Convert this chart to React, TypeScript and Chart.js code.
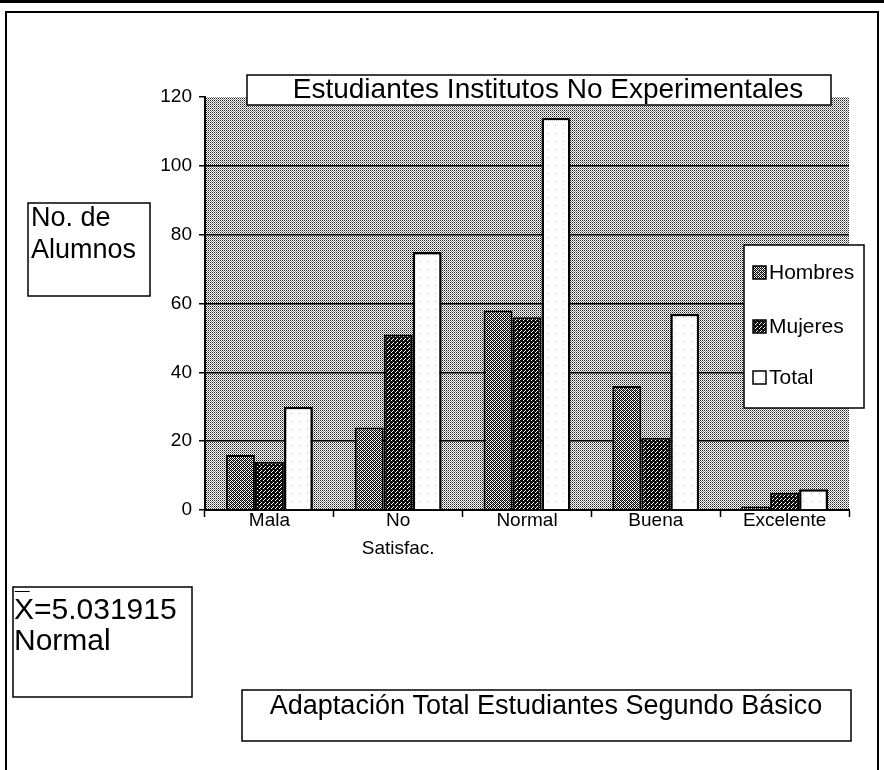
import React, { useEffect, useRef } from 'react';
import { Chart, registerables } from 'chart.js';

Chart.register(...registerables);

const categories: (string | string[])[] = ['Mala', ['No', 'Satisfac.'], 'Normal', 'Buena', 'Excelente'];
const hombres = [16, 24, 58, 36, 1];
const mujeres = [14, 51, 56, 21, 5];
const total = [30, 75, 114, 57, 6];
const seriesNames = ['Hombres', 'Mujeres', 'Total'];
const yMax = 120;
const yStep = 20;
const chartTitle = 'Estudiantes Institutos No Experimentales';
const axisTitle = ['No. de', 'Alumnos'];
const meanBar = '_';
const meanLines = ['X=5.031915', 'Normal'];
const bottomTitle = 'Adaptación Total Estudiantes Segundo Básico';

const FONT = '"Liberation Sans", Arial, sans-serif';

type Cell = [number, number, string];

function makePattern(size: number, bg: string, cells: Cell[]): CanvasPattern | string {
  const c = document.createElement('canvas');
  c.width = size;
  c.height = size;
  const g = c.getContext('2d');
  if (!g) return bg;
  g.fillStyle = bg;
  g.fillRect(0, 0, size, size);
  cells.forEach(([x, y, col]) => {
    g.fillStyle = col;
    g.fillRect(x, y, 1, 1);
  });
  return g.createPattern(c, 'repeat') || bg;
}

export default function App() {
  const ref = useRef<HTMLCanvasElement | null>(null);

  useEffect(() => {
    const canvas = ref.current;
    if (!canvas) return;

    const bgPat = makePattern(2, '#ffffff', [
      [0, 0, '#222'], [1, 1, '#888'],
    ]);
    const hPat = makePattern(4, '#ffffff', [
      [0, 0, '#000'], [1, 0, '#777'], [2, 0, '#000'], [1, 1, '#000'], [3, 1, '#000'],
      [0, 2, '#000'], [2, 2, '#000'], [3, 2, '#777'], [1, 3, '#000'], [3, 3, '#000'],
    ]);
    const mPat = makePattern(4, '#ffffff', [
      [0, 0, '#000'], [1, 0, '#000'], [2, 0, '#000'], [1, 1, '#000'], [3, 1, '#000'], [0, 1, '#333'],
      [0, 2, '#000'], [2, 2, '#000'], [3, 2, '#000'], [1, 3, '#000'], [3, 3, '#000'], [2, 1, '#222'],
      [2, 3, '#333'],
    ]);
    const tPat = makePattern(8, '#ffffff', [[3, 5, '#bbb']]);
    const fills = [hPat, mPat, tPat];

    const boxText = (
      ctx: CanvasRenderingContext2D,
      x1: number, y1: number, x2: number, y2: number
    ) => {
      ctx.save();
      ctx.fillStyle = '#fff';
      ctx.fillRect(x1, y1, x2 - x1, y2 - y1);
      ctx.strokeStyle = '#000';
      ctx.lineWidth = 1.5;
      ctx.strokeRect(x1, y1, x2 - x1, y2 - y1);
      ctx.restore();
    };

    const decor = {
      id: 'decor',
      beforeDraw(chart: Chart) {
        const ctx = chart.ctx;
        const a = chart.chartArea;
        ctx.save();
        ctx.fillStyle = '#fff';
        ctx.fillRect(0, 0, chart.width, chart.height);
        ctx.fillStyle = bgPat as any;
        ctx.fillRect(a.left, a.top, a.right - a.left, a.bottom - a.top);
        ctx.restore();
      },
      afterDraw(chart: Chart) {
        const ctx = chart.ctx;
        ctx.save();
        // outer frame
        ctx.fillStyle = '#000';
        ctx.fillRect(0, 0, chart.width, 3);
        ctx.strokeStyle = '#000';
        ctx.lineWidth = 2;
        ctx.strokeRect(6, 12, 872, 770);

        // title
        boxText(ctx, 247, 75, 831, 105);
        ctx.fillStyle = '#000';
        ctx.textAlign = 'center';
        ctx.textBaseline = 'middle';
        ctx.font = `28px ${FONT}`;
        ctx.fillText(chartTitle, 548, 90);

        // axis title
        boxText(ctx, 28, 203, 150, 296);
        ctx.fillStyle = '#000';
        ctx.textAlign = 'left';
        ctx.font = `27px ${FONT}`;
        ctx.fillText(axisTitle[0], 31, 219);
        ctx.fillText(axisTitle[1], 31, 251);

        // legend
        boxText(ctx, 744, 245, 864, 408);
        const ys = [273, 327, 378];
        chart.data.datasets.forEach((ds: any, i: number) => {
          const y = ys[i];
          ctx.fillStyle = fills[i] as any;
          ctx.fillRect(753, y - 7, 13, 13);
          ctx.strokeStyle = '#000';
          ctx.lineWidth = 1.5;
          ctx.strokeRect(753, y - 7, 13, 13);
          ctx.fillStyle = '#000';
          ctx.font = `21px ${FONT}`;
          ctx.textAlign = 'left';
          ctx.textBaseline = 'middle';
          ctx.fillText(ds.label, 769, y);
        });

        // mean box
        boxText(ctx, 13, 587, 192, 697);
        ctx.fillStyle = '#000';
        ctx.font = `bold 26px ${FONT}`;
        ctx.textAlign = 'left';
        ctx.textBaseline = 'alphabetic';
        ctx.fillText(meanBar, 15, 589);
        ctx.font = `30px ${FONT}`;
        ctx.textBaseline = 'middle';
        ctx.fillText(meanLines[0], 14, 611);
        ctx.fillText(meanLines[1], 14, 642);

        // bottom title
        boxText(ctx, 242, 690, 851, 741);
        ctx.fillStyle = '#000';
        ctx.textAlign = 'center';
        ctx.font = `27px ${FONT}`;
        ctx.fillText(bottomTitle, 546, 707);
        ctx.restore();
      },
    };

    const YW = 45;
    const XH = 70;
    const chart = new Chart(canvas, {
      type: 'bar',
      data: {
        labels: categories as any,
        datasets: [hombres, mujeres, total].map((d, i) => ({
          label: seriesNames[i],
          data: d,
          backgroundColor: fills[i] as any,
          borderColor: '#000',
          borderWidth: i === 2 ? 2.5 : 2,
          categoryPercentage: 0.675,
          barPercentage: 1,
        })),
      },
      options: {
        responsive: false,
        animation: false,
        layout: { padding: { left: 205 - YW, right: 884 - 849, top: 97, bottom: 770 - 510 - XH } },
        plugins: { legend: { display: false }, title: { display: false }, tooltip: { enabled: false } },
        scales: {
          x: {
            afterFit: (s: any) => { s.height = XH; },
            grid: { drawOnChartArea: false, offset: true, tickLength: 7, tickColor: '#000', tickWidth: 1.5 },
            border: { color: '#000', width: 2 },
            ticks: { color: '#000', font: { family: FONT, size: 19, lineHeight: 1.45 }, padding: -10, maxRotation: 0, autoSkip: false },
          },
          y: {
            min: 0,
            max: yMax,
            afterFit: (s: any) => { s.width = YW; },
            grid: {
              color: (c: any) => (c.tick && (c.tick.value === yMax || c.tick.value === 0) ? 'rgba(0,0,0,0)' : '#000'),
              lineWidth: 1.5,
              tickLength: 6,
              tickColor: '#000',
              tickWidth: 1.5,
            },
            border: { color: '#000', width: 2 },
            ticks: { stepSize: yStep, color: '#000', font: { family: FONT, size: 19 }, padding: 7 },
          },
        },
      },
      plugins: [decor],
    });
    return () => chart.destroy();
  }, []);

  return (
    <div style={{ position: 'absolute', left: 0, top: 0, width: 884, height: 770, background: '#fff' }}>
      <canvas ref={ref} width={884} height={770} style={{ display: 'block' }} />
    </div>
  );
}
